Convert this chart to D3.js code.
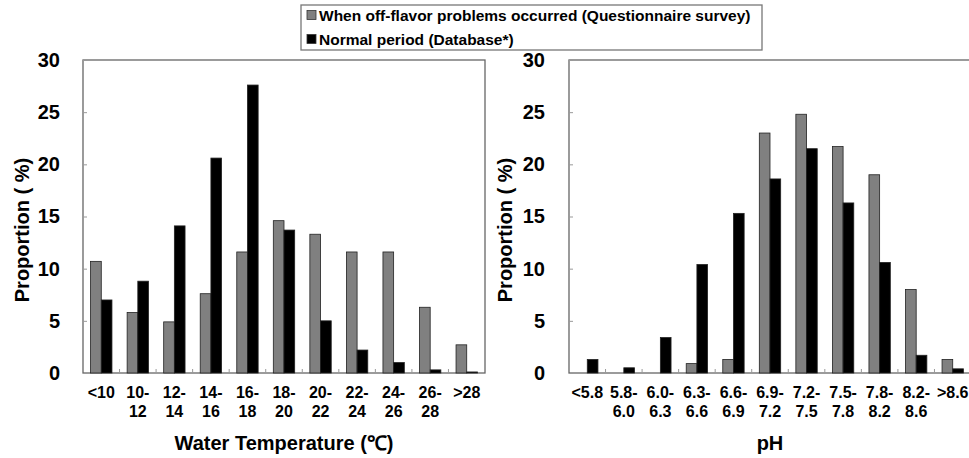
<!DOCTYPE html>
<html>
<head>
<meta charset="utf-8">
<script src="https://cdn.jsdelivr.net/npm/d3@7"></script>
<style>
  body { margin: 0; background: #fff; }
  svg { display: block; font-family: "Liberation Sans", Arial, sans-serif; font-weight: bold; }
</style>
</head>
<body>
<svg id="chart" width="969" height="458"></svg>
<script>
// Data
let seriesNames = ["When off-flavor problems occurred (Questionnaire survey)", "Normal period (Database*)"]
let seriesColors = ["#808080", "#000000"]

let tempCats = ["<10", "10-12", "12-14", "14-16", "16-18", "18-20", "20-22", "22-24", "24-26", "26-28", ">28"]
let tempSurvey = [10.7, 5.8, 4.9, 7.6, 11.6, 14.6, 13.3, 11.6, 11.6, 6.3, 2.7]
let tempNormal = [7.0, 8.8, 14.1, 20.6, 27.6, 13.7, 5.0, 2.2, 1.0, 0.3, 0.1]

let phCats = ["<5.8", "5.8-6.0", "6.0-6.3", "6.3-6.6", "6.6-6.9", "6.9-7.2", "7.2-7.5", "7.5-7.8", "7.8-8.2", "8.2-8.6", ">8.6"]
let phSurvey = [0, 0, 0, 0.9, 1.3, 23.0, 24.8, 21.7, 19.0, 8.0, 1.3]
let phNormal = [1.3, 0.5, 3.4, 10.4, 15.3, 18.6, 21.5, 16.3, 10.6, 1.7, 0.4]

let yTicks = [0, 5, 10, 15, 20, 25, 30]

// Helpers
let svg = d3.select("#chart")

let splitLabel = s => {
  let i = s.indexOf("-")
  return i > 0 ? [s.slice(0, i + 1), s.slice(i + 1)] : [s]
}

let drawPanel = (opt) => {
  let top = 60, bottom = 373
  let x = d3.scaleBand().domain(opt.cats).range([opt.left, opt.right]).padding(0)
  let xs = d3.scaleBand().domain([0, 1]).range([0, x.bandwidth()]).paddingInner(0).paddingOuter(0.71)
  let y = d3.scaleLinear().domain([0, 30]).range([bottom, top])

  let g = svg.append("g")

  // frame
  g.append("rect")
    .attr("x", opt.left).attr("y", top)
    .attr("width", opt.right - opt.left).attr("height", bottom - top)
    .attr("fill", "none").attr("stroke", "#666").attr("stroke-width", 1.3)

  // bars
  let rows = opt.cats.map((c, i) => ({cat: c, vals: [opt.a[i], opt.b[i]]}))
  let grp = g.selectAll(".grp").data(rows).enter().append("g")
    .attr("transform", d => `translate(${x(d.cat)},0)`)
  grp.selectAll("rect").data(d => d.vals.map((v, k) => ({v, k}))).enter()
    .filter(d => d.v > 0)
    .append("rect")
    .attr("x", d => xs(d.k))
    .attr("width", xs.bandwidth())
    .attr("y", d => y(d.v))
    .attr("height", d => y(0) - y(d.v))
    .attr("fill", d => seriesColors[d.k])
    .attr("stroke", "#222").attr("stroke-width", 0.8)

  // y axis
  let ya = g.append("g").attr("transform", `translate(${opt.left},0)`)
    .call(d3.axisLeft(y).tickValues(yTicks).tickSize(-4).tickPadding(opt.pad))
  ya.select(".domain").remove()
  ya.selectAll(".tick line").attr("stroke", "#999")
  ya.selectAll("text").attr("font-size", 20).attr("fill", "#000")
    .attr("font-family", "Liberation Sans, Arial, sans-serif").attr("font-weight", "bold")

  // category boundary ticks
  g.selectAll(".bt").data(opt.cats.slice(1)).enter().append("line")
    .attr("x1", d => x(d)).attr("x2", d => x(d))
    .attr("y1", bottom).attr("y2", bottom - 4)
    .attr("stroke", "#999")

  // x labels
  let lab = g.selectAll(".xl").data(opt.cats).enter().append("text")
    .attr("text-anchor", "middle")
    .attr("font-size", 16)
    .attr("x", d => x(d) + x.bandwidth() / 2)
  lab.selectAll("tspan").data(d => splitLabel(d)).enter().append("tspan")
    .attr("x", function() { return d3.select(this.parentNode).attr("x") })
    .attr("y", (d, i) => bottom + 24.5 + i * 19.5)
    .text(d => d)

  // titles
  g.append("text")
    .attr("transform", `translate(${opt.ytx},230) rotate(-90)`)
    .attr("text-anchor", "middle").attr("dy", "0.35em")
    .attr("font-size", 20)
    .text("Proportion ( %)")
  g.append("text")
    .attr("x", (opt.left + opt.right) / 2).attr("y", 450)
    .attr("text-anchor", "middle")
    .attr("font-size", 20)
    .text(opt.title)
}

drawPanel({cats: tempCats, a: tempSurvey, b: tempNormal, left: 83, right: 485, pad: 23, ytx: 22, title: "Water Temperature (\u2103)"})
drawPanel({cats: phCats, a: phSurvey, b: phNormal, left: 569, right: 971, pad: 24, ytx: 505, title: "pH"})

// Legend
let lg = svg.append("g")
lg.append("rect").attr("x", 301).attr("y", 5).attr("width", 461).attr("height", 45)
  .attr("fill", "#fff").attr("stroke", "#777").attr("stroke-width", 1.3)
let items = lg.selectAll(".li").data(seriesNames).enter().append("g")
  .attr("transform", (d, i) => `translate(307,${15 + i * 24})`)
items.append("rect").attr("x", 0).attr("y", -4.5).attr("width", 9).attr("height", 9)
  .attr("fill", (d, i) => seriesColors[i]).attr("stroke", "#333").attr("stroke-width", 0.8)
items.append("text").attr("x", 12).attr("y", 5.5).attr("font-size", 15.5).text(d => d)
</script>
</body>
</html>
